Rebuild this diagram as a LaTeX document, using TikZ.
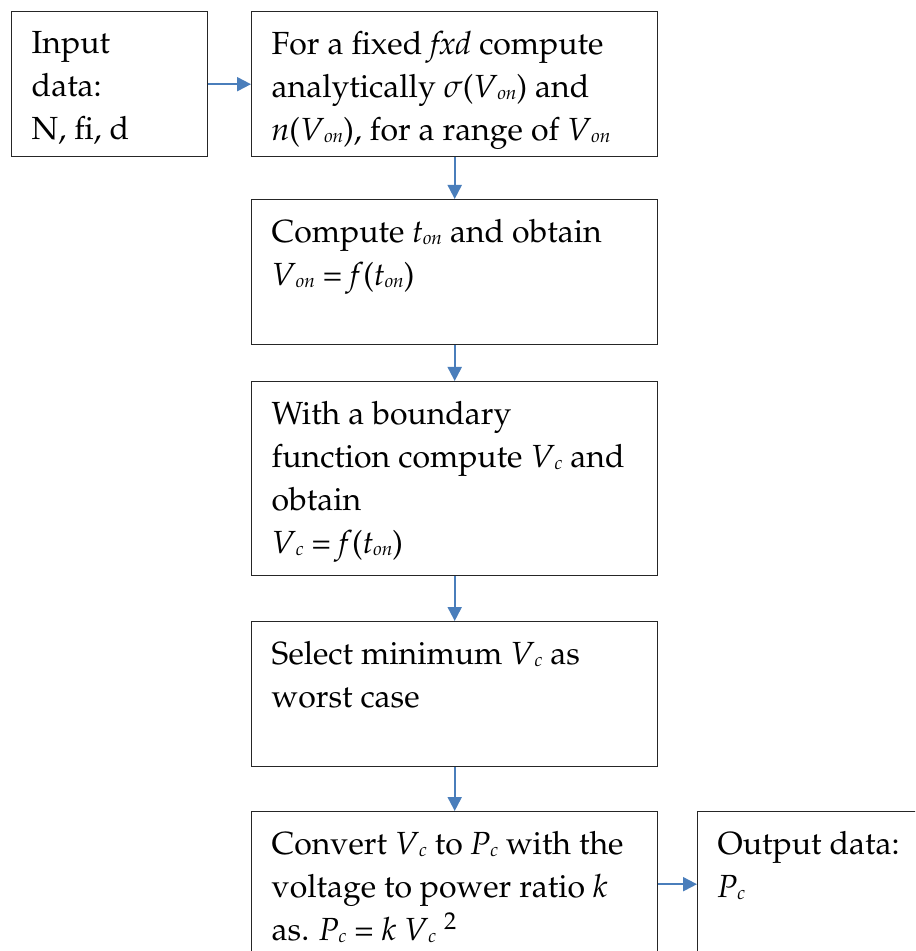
\documentclass[tikz,border=0pt]{standalone}
\usepackage[T1]{fontenc}
\usepackage{mathpazo}
\usetikzlibrary{arrows.meta}
\definecolor{flowblue}{RGB}{74,126,187}
\tikzstyle{block}=[draw=black!85,line width=0.7pt,anchor=north west,inner xsep=10pt,inner ysep=0pt,font=\fontsize{16}{21.5}\selectfont]
\tikzstyle{flow}=[draw=flowblue,line width=1pt,-{Triangle[length=7pt,width=7pt]},fill=flowblue]
\newcommand{\cell}[3]{\parbox[c][#2][t]{#1}{\vspace*{10pt}\raggedright #3}}
\newcommand{\sub}[1]{\raisebox{-1pt}{\fontsize{9.5}{9.5}\selectfont\textit{#1}}}
\newcommand{\Von}{\textit{V}\sub{on}}
\newcommand{\ton}{\textit{t}\sub{on}}
\newcommand{\Vc}{\textit{V}\sub{c}}
\newcommand{\Pc}{\textit{P}\sub{c}}

\begin{document}
\begin{tikzpicture}[x=0.5pt,y=-0.5pt]
\clip (0,0) rectangle (915,951);

\node (in) at (11,11)   [block] {\cell{78pt}{72.5pt}{Input\\ data:\\ N, fi, d}};
\node (1) at (251,11)   [block] {\cell{183pt}{72.5pt}{For a fixed \textit{fxd} compute\\ analytically $\sigma$(\Von) and\\ \textit{n}(\Von), for a range of \Von}};
\node (2) at (251,199)  [block] {\cell{183pt}{72.5pt}{Compute \ton{} and obtain\\ \Von{} = \textit{f}(\ton)}};
\node (3) at (251,381)  [block] {\cell{183pt}{97pt}{With a boundary\\ function compute \Vc{} and\\ obtain\\ \Vc{} = \textit{f}(\ton)}};
\node (4) at (251,621)  [block] {\cell{183pt}{72.5pt}{Select minimum \Vc{} as\\ worst case}};
\node (5) at (251,811)  [block] {\cell{183pt}{72.5pt}{Convert \Vc{} to \Pc{} with the\\ voltage to power ratio \textit{k}\\ as. \Pc{} = \textit{k} \Vc{}~\textsuperscript{2}}};
\node (out) at (697,811) [block] {\cell{130pt}{72.5pt}{Output data:\\ \Pc}};

\draw[flow] (in) -- (1);
\draw[flow] (1) -- (2);
\draw[flow] (2) -- (3);
\draw[flow] (3) -- (4);
\draw[flow] (4) -- (5);
\draw[flow] (5) -- (out);
\end{tikzpicture}
\end{document}
